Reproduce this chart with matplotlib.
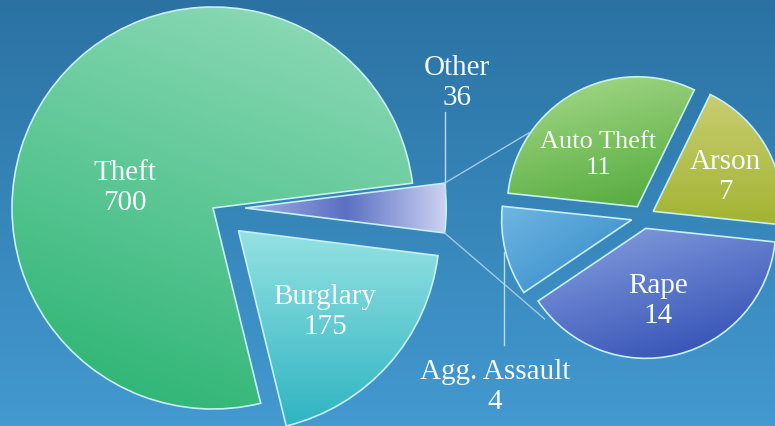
import numpy as np
import matplotlib
matplotlib.use('Agg')
import matplotlib.pyplot as plt
from matplotlib.colors import LinearSegmentedColormap

# ==============================
# DATA
# ==============================
MAIN_LABELS = ['Theft', 'Burglary', 'Other']
MAIN_VALUES = [700, 175, 36]
SUB_LABELS = ['Auto Theft', 'Arson', 'Rape', 'Agg. Assault']
SUB_VALUES = [11, 7, 14, 4]

# ==============================
# STYLE
# ==============================
W, H = 775, 427
FONT = 'Liberation Serif'
TXT = '#f4fbfb'
EDGE = '#c6f1f0'

# (couleurs du dégradé, direction du dégradé en degrés)
MAIN_FILL = [(['#93dcbb', '#27b270'], -110), (['#95e2e2', '#2fb4c2'], -90),
             (['#cdd3f2', '#5a70c2', '#a4afe4'], 180)]
SUB_FILL = [(['#a9da8c', '#4fa838'], -70), (['#c9cd72', '#a2b432'], -90),
            (['#8aa2e0', '#2a48b0'], -60), (['#6fb6e2', '#2f86c6'], -45)]

MAIN_CENTER = (213, H - 209)
MAIN_R = 201
SUB_CENTER = (643, H - 218)
SUB_R = 130


def gradient_fill(ax, wedge, colors, angle):
    """Remplir un secteur avec un dégradé linéaire (clip sur le secteur)."""
    x0, y0, x1, y1 = wedge.get_path().get_extents(wedge.get_patch_transform()).extents
    n = 200
    xx, yy = np.meshgrid(np.linspace(0, 1, n), np.linspace(1, 0, n))
    a = np.deg2rad(angle)
    t = (xx - 0.5) * np.cos(a) + (yy - 0.5) * np.sin(a)
    t = (t - t.min()) / (t.max() - t.min())
    cmap = LinearSegmentedColormap.from_list('g', colors)
    im = ax.imshow(t, cmap=cmap, extent=(x0, x1, y0, y1), origin='upper',
                   interpolation='bilinear', zorder=2)
    im.set_clip_path(wedge)


fig = plt.figure(figsize=(W / 100, H / 100), dpi=100)
ax = fig.add_axes([0, 0, 1, 1])

# fond en dégradé bleu (sombre en haut, clair en bas)
bg = np.linspace(0, 1, 100).reshape(-1, 1)
bg_cmap = LinearSegmentedColormap.from_list('bg', ['#2b72a3', '#4399d0'])
ax.imshow(bg, cmap=bg_cmap, extent=(0, W, 0, H), origin='upper', aspect='auto', zorder=0)

# camembert principal
main_wedges, _ = ax.pie(MAIN_VALUES, center=MAIN_CENTER, radius=MAIN_R, startangle=7.1,
                        counterclock=True, explode=[0, 0.17 * MAIN_R, 0.16 * MAIN_R],
                        wedgeprops=dict(edgecolor=EDGE, linewidth=1.2, zorder=3, facecolor='none'),
                        frame=True)
# camembert secondaire
sub_wedges, _ = ax.pie(SUB_VALUES, center=SUB_CENTER, radius=SUB_R, startangle=174,
                       counterclock=False, explode=[0.09 * SUB_R] * 4,
                       wedgeprops=dict(edgecolor=EDGE, linewidth=1.2, zorder=3, facecolor='none'),
                       frame=True)
ax.set_xlim(0, W)
ax.set_ylim(0, H)
ax.set_aspect('equal')
ax.axis('off')

for w, (cols, ang) in zip(main_wedges, MAIN_FILL):
    gradient_fill(ax, w, cols, ang)
for w, (cols, ang) in zip(sub_wedges, SUB_FILL):
    gradient_fill(ax, w, cols, ang)

# lignes de liaison entre "Other" et le second camembert
other = main_wedges[2]
ocx, ocy = other.center
for th_main, th_sub in [(other.theta2, 143.5), (other.theta1, 226)]:
    p0 = (ocx + MAIN_R * np.cos(np.deg2rad(th_main)), ocy + MAIN_R * np.sin(np.deg2rad(th_main)))
    d = SUB_R * 1.09
    p1 = (SUB_CENTER[0] + d * np.cos(np.deg2rad(th_sub)), SUB_CENTER[1] + d * np.sin(np.deg2rad(th_sub)))
    ax.plot([p0[0], p1[0]], [p0[1], p1[1]], color='#9fcbe6', lw=1.0, zorder=4)

# étiquettes
label_pos = {
    'Theft': (125, H - 188), 'Burglary': (325, H - 312), 'Other': (457, H - 83),
    'Auto Theft': (598, H - 155), 'Arson': (725, H - 177), 'Rape': (658, H - 301),
    'Agg. Assault': (495, H - 387),
}
for lab, val in list(zip(MAIN_LABELS, MAIN_VALUES)) + list(zip(SUB_LABELS, SUB_VALUES)):
    x, y = label_pos[lab]
    size = 19 if lab == 'Auto Theft' else 21
    ax.text(x, y, f"{lab}\n{val}", ha='center', va='center', color=TXT, fontsize=size,
            family=FONT, linespacing=1.2, zorder=6)

# traits de rappel des étiquettes
ax.plot([445, 445], [H - 113, H - 193], color='#b9dcef', lw=1.0, zorder=4)
ax.plot([504, 504], [H - 253, H - 346], color='#b9dcef', lw=1.0, zorder=4)

fig.savefig('out.png', dpi=100)
